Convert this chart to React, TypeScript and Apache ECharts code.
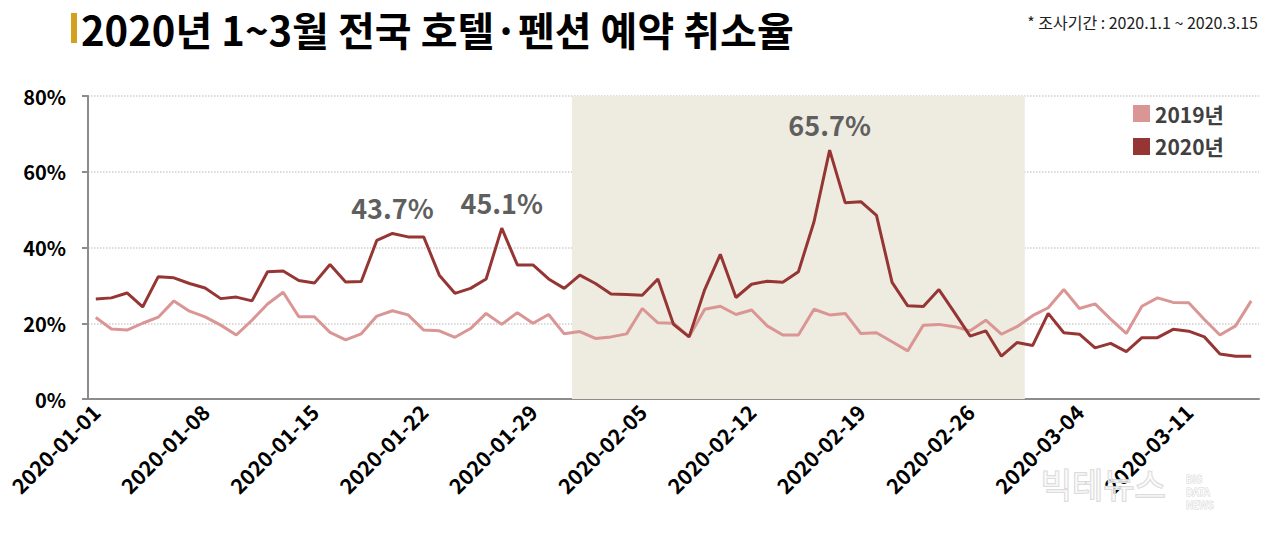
import React, { useEffect, useRef } from "react";
import * as echarts from "echarts";

const dates: string[] = [];
(() => {
  const start = Date.UTC(2020, 0, 1);
  for (let i = 0; i < 75; i++) {
    const d = new Date(start + i * 86400000);
    dates.push(d.toISOString().slice(0, 10));
  }
})();

const series2019: number[] = [
  21.5, 18.5, 18.2, 20.0, 21.6, 25.9, 23.2, 21.7, 19.5, 16.9,
  20.8, 25.1, 28.2, 21.7, 21.7, 17.6, 15.6, 17.2, 21.9, 23.3,
  22.2, 18.2, 18.0, 16.3, 18.6, 22.6, 19.7, 22.8, 20.0, 22.3,
  17.2, 17.8, 16.0, 16.4, 17.2, 23.9, 20.1, 20.0, 16.4, 23.7,
  24.5, 22.3, 23.5, 19.3, 16.9, 16.9, 23.7, 22.2, 22.6, 17.3,
  17.5, 15.1, 12.7, 19.5, 19.7, 19.1, 18.0, 20.8, 17.1, 19.1,
  22.0, 24.1, 28.9, 23.9, 25.1, 21.1, 17.3, 24.5, 26.7, 25.5,
  25.4, 21.0, 16.9, 19.3, 25.9,
];

const series2020: number[] = [
  26.4, 26.7, 28.0, 24.3, 32.3, 32.0, 30.5, 29.3, 26.5, 26.9,
  25.9, 33.6, 33.8, 31.3, 30.6, 35.5, 30.9, 31.0, 41.9, 43.7,
  42.8, 42.8, 32.7, 27.9, 29.2, 31.7, 45.1, 35.4, 35.4, 31.7,
  29.2, 32.7, 30.5, 27.7, 27.6, 27.4, 31.7, 19.7, 16.4, 28.9,
  38.2, 26.8, 30.3, 31.1, 30.8, 33.6, 46.8, 65.7, 51.8, 52.1,
  48.5, 30.8, 24.6, 24.4, 28.9, 22.8, 16.6, 18.0, 11.3, 14.9,
  14.1, 22.6, 17.5, 17.1, 13.5, 14.7, 12.5, 16.2, 16.2, 18.4,
  17.9, 16.4, 11.9, 11.3, 11.3,
];

const highlightIdx: number[] = [19, 26, 47];
const yTicks: number[] = [0, 20, 40, 60, 80];
const shadeRange: [string, string] = ["2020-02-01", "2020-02-29"];
const watermarkWords: string[] = ["BIG", "DATA", "NEWS"];

const FONT = '"Noto Sans CJK KR", "Noto Sans", sans-serif';

export default function App() {
  const ref = useRef<HTMLDivElement>(null);
  useEffect(() => {
    if (!ref.current) return;
    const chart = echarts.init(ref.current, null, { renderer: "svg" });
    const shadeStart = dates.indexOf(shadeRange[0]);
    const shadeEnd = dates.indexOf(shadeRange[1]) + 1;
    chart.setOption({
      animation: false,
      textStyle: { fontFamily: FONT },
      grid: { left: 88, right: 21, top: 96, bottom: 135, containLabel: false },
      legend: {
        orient: "vertical",
        left: 1128,
        top: 98,
        icon: "rect",
        itemWidth: 17,
        itemHeight: 17,
        itemGap: 12,
        textStyle: { fontSize: 21, fontWeight: "bold", color: "#404040", fontFamily: FONT },
        data: ["2019년", "2020년"],
      },
      xAxis: [
        {
          type: "category",
          data: dates,
          boundaryGap: true,
          axisLine: { lineStyle: { color: "#8c8c8c", width: 2 } },
          axisTick: { interval: 6, length: 7, lineStyle: { color: "#8c8c8c", width: 2 } },
          axisLabel: {
            interval: 6,
            rotate: 45,
            margin: 9,
            fontSize: 21,
            fontWeight: "bold",
            color: "#000",
            fontFamily: FONT,
          },
          splitLine: { show: false },
        },
        {
          type: "value",
          min: 0,
          max: dates.length,
          show: false,
        },
      ],
      yAxis: {
        type: "value",
        min: yTicks[0],
        max: yTicks[yTicks.length - 1],
        interval: 20,
        axisLine: { show: true, lineStyle: { color: "#8c8c8c", width: 2 } },
        axisTick: { show: true, length: 6, lineStyle: { color: "#8c8c8c", width: 2 } },
        axisLabel: {
          formatter: "{value}%",
          fontSize: 20,
          fontWeight: "bold",
          color: "#000",
          margin: 22,
          fontFamily: FONT,
        },
        splitLine: { lineStyle: { type: "dotted", color: "#cfcfcf", width: 1.5 } },
      },
      series: [
        {
          name: "shade",
          type: "line",
          xAxisIndex: 1,
          yAxisIndex: 0,
          data: [],
          z: 1,
          silent: true,
          markArea: {
            silent: true,
            itemStyle: { color: "#eeebe1" },
            data: [[{ xAxis: shadeStart }, { xAxis: shadeEnd }]],
          },
        },
        {
          name: "2019년",
          type: "line",
          data: series2019,
          color: "#d99694",
          showSymbol: false,
          symbol: "none",
          z: 3,
          lineStyle: { color: "#d99694", width: 3 },
        },
        {
          name: "2020년",
          type: "line",
          color: "#963634",
          showSymbol: false,
          symbol: "none",
          z: 4,
          lineStyle: { color: "#963634", width: 3 },
          data: series2020,
          markPoint: {
            symbol: "circle",
            symbolSize: 1,
            silent: true,
            itemStyle: { color: "rgba(0,0,0,0)" },
            label: {
              show: true,
              position: "top",
              distance: 12,
              formatter: "{c}%",
              fontSize: 27,
              fontWeight: 600,
              color: "#5f5f5f",
              fontFamily: FONT,
            },
            data: highlightIdx.map((i) => ({
              coord: [dates[i], series2020[i]],
              value: series2020[i],
            })),
          },
        },
      ],
      graphic: [
        { type: "rect", left: 71, top: 13, shape: { width: 6, height: 30 }, style: { fill: "#d4a11e" } },
        {
          type: "text",
          x: 81,
          y: 29,
          style: {
            text: "2020년 1~3월 전국 호텔·펜션 예약 취소율",
            fontSize: 40,
            lineHeight: 44,
            fontWeight: "bold",
            fill: "#000",
            fontFamily: FONT,
            verticalAlign: "middle",
          },
        },
        {
          type: "text",
          right: 22,
          top: 14,
          style: {
            text: "* 조사기간 : 2020.1.1 ~ 2020.3.15",
            fontSize: 16,
            fill: "#222",
            fontFamily: FONT,
          },
        },
        {
          type: "text",
          left: 1040,
          top: 466,
          z: 100,
          style: {
            text: "빅테뉴스",
            fontSize: 34,
            fill: "rgba(255,255,255,0.6)",
            stroke: "#d6d6d6",
            lineWidth: 1.5,
            fontFamily: FONT,
          },
        },
        ...watermarkWords.map((w, k) => ({
          type: "text",
          x: 1186,
          y: 478 + k * 13,
          z: 100,
          style: {
            text: w,
            fontSize: 10,
            fill: "#fff",
            stroke: "#d6d6d6",
            lineWidth: 1,
            fontFamily: FONT,
            verticalAlign: "middle",
          },
        })),
      ],
    });
    return () => chart.dispose();
  }, []);
  return <div ref={ref} style={{ width: 1280, height: 534, margin: -8 }} />;
}
